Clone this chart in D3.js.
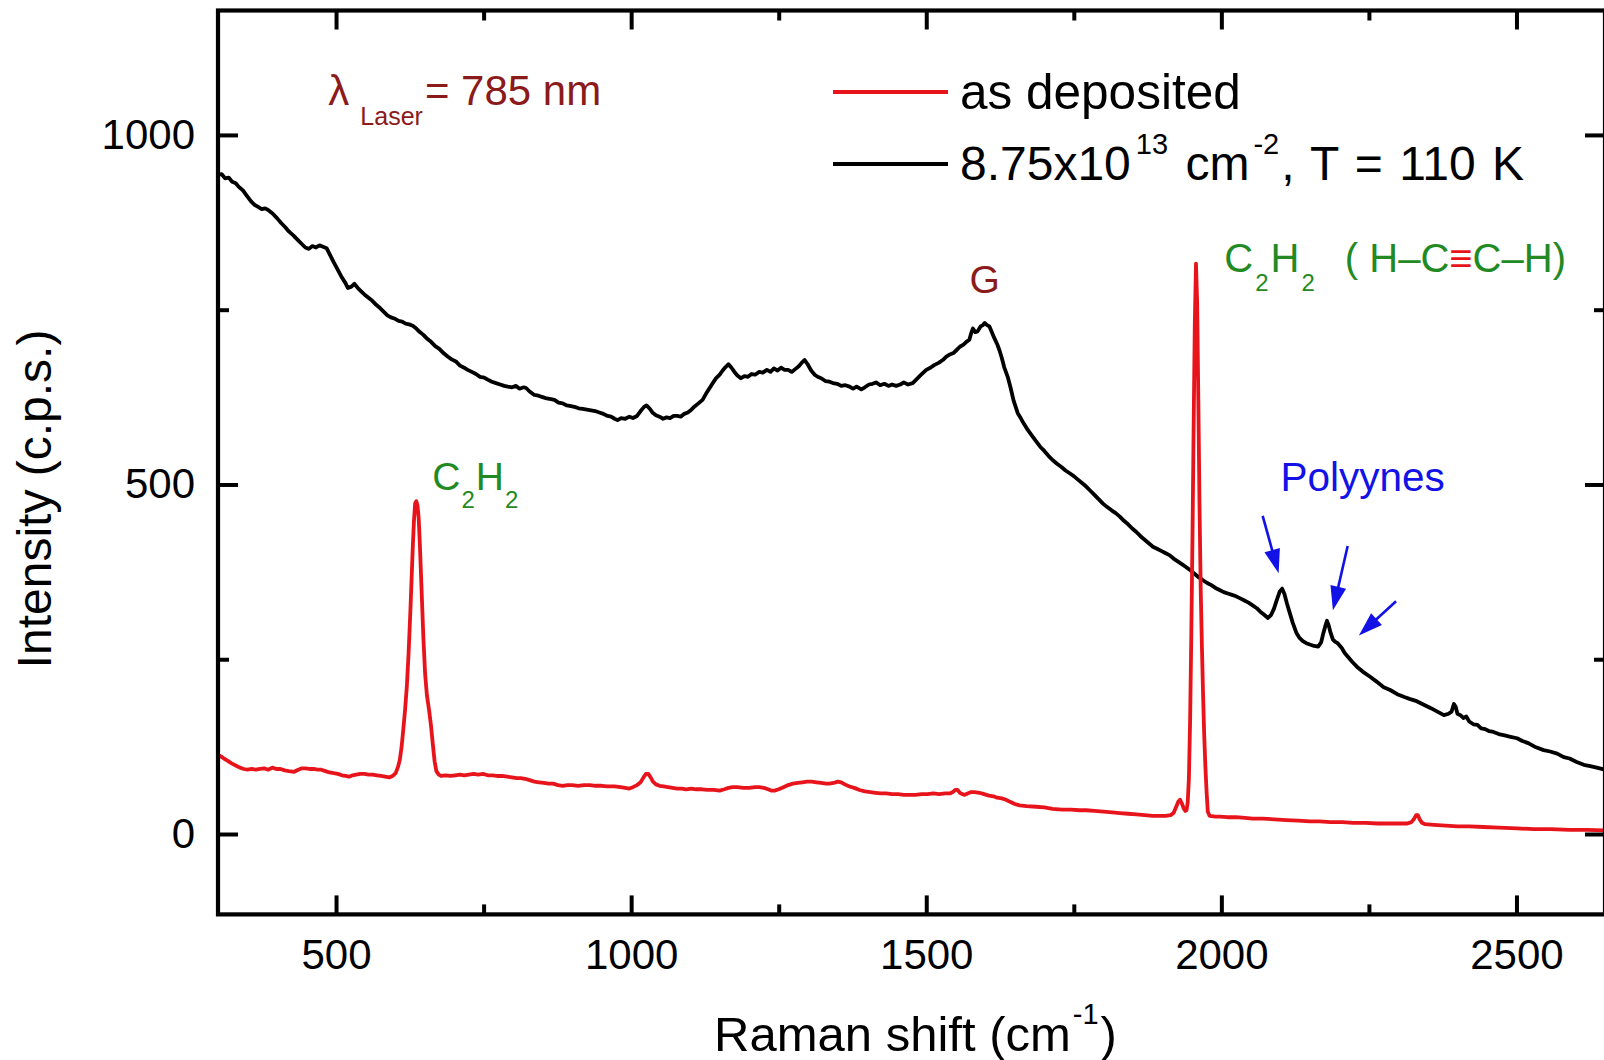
<!DOCTYPE html>
<html><head><meta charset="utf-8">
<script src="https://cdn.jsdelivr.net/npm/d3@7"></script>
<style>
html,body{margin:0;padding:0;background:#fff;}
svg{display:block;font-family:"Liberation Sans",Arial,Helvetica,sans-serif;}
</style>
</head><body>
<svg id="chart" width="1604" height="1060"></svg>
<script>
// ---------------- DATA ----------------
const seriesNames = ["as deposited", "8.75x10^13 cm^-2, T = 110 K"];
const seriesColors = ["#e8141c", "#000000"];

// Raman shift (cm-1), intensity (c.p.s.) — as deposited
const asDeposited = [[300,113],[305,111],[310,108],[316,105],[323,101],[330,98],[337,95],[344,93],[350,92],[357,93],[364,92],[371,93],[378,94],[385,92],[392,95],[399,93],[406,93],[413,91],[420,90],[429,89],[436,92],[442,94],[448,94],[455,93],[462,93],[469,92],[475,92],[482,90],[489,88],[496,87],[503,86],[510,84],[516,83],[522,82],[528,84],[534,85],[541,86],[548,86],[555,85],[562,85],[569,84],[576,83],[583,82],[590,81],[596,83],[601,87],[605,96],[608,106],[611,124],[614,150],[617,178],[620,212],[623,260],[626,320],[628,365],[630,410],[632,448],[634,473],[636,476],[638,470],[640,452],[642,415],[644,370],[646,325],[648,280],[651,228],[654,198],[658,175],[661,154],[664,128],[667,104],[670,90],[674,85],[678,83],[686,84],[694,83],[702,84],[710,85],[717,84],[725,85],[733,86],[741,85],[749,86],[757,84],[765,84],[773,83],[781,83],[790,82],[798,81],[806,80],[813,80],[820,79],[828,77],[836,75],[844,74],[852,73],[860,72],[868,72],[876,70],[884,69],[892,70],[900,70],[910,69],[920,70],[930,70],[940,69],[950,69],[960,68],[972,68],[982,67],[990,66],[997,65],[1003,67],[1010,70],[1016,74],[1021,81],[1025,86],[1029,86],[1033,81],[1037,75],[1042,71],[1048,69],[1055,68],[1062,67],[1070,66],[1078,65],[1086,65],[1093,64],[1102,65],[1110,64],[1120,64],[1130,63],[1140,63],[1150,62],[1158,64],[1165,66],[1172,67],[1180,67],[1190,66],[1200,66],[1210,67],[1217,67],[1225,66],[1232,64],[1238,62],[1243,62],[1250,64],[1258,67],[1266,70],[1274,72],[1282,73],[1290,74],[1298,75],[1306,75],[1314,74],[1322,73],[1330,72],[1336,72],[1343,73],[1350,75],[1356,74],[1362,71],[1370,68],[1378,66],[1387,63],[1396,61],[1405,60],[1414,59],[1423,58],[1432,58],[1442,57],[1452,57],[1462,56],[1472,56],[1482,56],[1492,57],[1502,57],[1512,58],[1522,57],[1532,58],[1540,58],[1545,60],[1549,63],[1553,63],[1557,59],[1561,57],[1565,56],[1570,58],[1576,60],[1582,60],[1590,59],[1598,57],[1606,55],[1614,54],[1620,52],[1628,51],[1635,49],[1642,46],[1650,43],[1658,41],[1670,40],[1686,39],[1700,38],[1714,36],[1730,35],[1745,35],[1760,34],[1771,34],[1785,33],[1800,32],[1815,31],[1828,30],[1842,29],[1856,28],[1870,27],[1884,26],[1896,26],[1906,26],[1914,27],[1919,30],[1923,38],[1927,46],[1930,49],[1933,44],[1936,37],[1939,33],[1941,34],[1943,45],[1945,80],[1947,160],[1949,280],[1951,420],[1953,580],[1955,730],[1957,816],[1959,760],[1961,620],[1963,470],[1965,350],[1967,270],[1969,200],[1971,140],[1973,95],[1975,60],[1977,32],[1980,26],[1990,25],[1997,25],[2010,24],[2025,24],[2040,23],[2053,22],[2070,22],[2090,21],[2110,20],[2130,19],[2150,18],[2166,18],[2185,17],[2205,17],[2223,16],[2245,16],[2265,15],[2280,15],[2300,15],[2315,15],[2322,17],[2326,21],[2330,27],[2333,27],[2336,21],[2340,16],[2345,14],[2360,13],[2380,12],[2400,11],[2420,11],[2444,10],[2470,9],[2501,8],[2530,7],[2558,7],[2590,6],[2620,6],[2650,5]];

// Raman shift (cm-1), intensity (c.p.s.) — 8.75x10^13 cm^-2, T = 110 K
const irradiated = [[300,943],[306,944],[312,938],[318,939],[324,933],[330,931],[336,925],[342,921],[348,914],[356,905],[362,900],[368,897],[374,894],[380,895],[386,892],[392,888],[400,881],[407,874],[414,868],[420,862],[428,856],[435,850],[442,844],[448,839],[454,837],[460,841],[466,839],[472,842],[478,840],[484,838],[490,828],[496,818],[503,807],[510,796],[516,788],[520,781],[526,783],[531,787],[537,781],[543,776],[549,771],[555,767],[561,763],[568,757],[575,752],[581,747],[587,742],[593,739],[600,737],[606,734],[612,733],[618,730],[624,729],[630,727],[636,723],[642,718],[648,714],[655,708],[661,704],[668,698],[675,694],[682,688],[689,683],[696,679],[703,676],[710,670],[717,667],[723,664],[730,661],[737,658],[744,654],[751,653],[757,650],[764,647],[771,645],[778,643],[785,641],[791,640],[798,639],[805,641],[811,637],[818,639],[822,638],[828,633],[836,628],[843,627],[850,625],[857,623],[864,622],[870,621],[877,617],[884,616],[891,613],[898,612],[904,611],[911,609],[918,608],[925,607],[932,606],[939,605],[946,603],[953,601],[960,598],[966,597],[972,594],[977,592],[983,595],[990,594],[997,597],[1003,595],[1010,598],[1016,605],[1022,611],[1026,613],[1031,609],[1036,603],[1042,599],[1048,597],[1054,594],[1060,596],[1066,595],[1072,598],[1078,598],[1084,597],[1090,601],[1096,603],[1102,607],[1108,612],[1114,616],[1121,621],[1127,630],[1133,638],[1139,646],[1144,652],[1150,657],[1155,663],[1160,668],[1165,672],[1170,667],[1175,661],[1180,656],[1186,652],[1192,655],[1198,654],[1204,658],[1210,657],[1217,661],[1223,660],[1230,664],[1236,661],[1242,666],[1248,663],[1254,667],[1260,664],[1266,664],[1272,661],[1278,665],[1284,669],[1290,675],[1294,678],[1299,672],[1305,663],[1311,657],[1316,654],[1322,652],[1329,648],[1336,647],[1342,645],[1349,644],[1356,641],[1363,642],[1370,640],[1376,637],[1382,640],[1390,636],[1396,639],[1403,643],[1409,644],[1415,646],[1422,642],[1429,644],[1436,641],[1442,643],[1449,641],[1456,643],[1462,646],[1469,643],[1477,645],[1483,650],[1490,656],[1495,660],[1500,664],[1507,667],[1514,671],[1521,674],[1528,678],[1534,683],[1540,686],[1546,688],[1551,692],[1557,697],[1563,700],[1568,704],[1573,707],[1576,716],[1579,723],[1583,718],[1587,719],[1592,726],[1596,728],[1599,731],[1603,728],[1607,726],[1611,718],[1615,710],[1620,701],[1624,692],[1628,681],[1632,668],[1638,654],[1643,638],[1648,620],[1655,602],[1660,595],[1666,586],[1672,578],[1679,570],[1686,562],[1693,554],[1700,548],[1707,541],[1714,535],[1721,530],[1729,525],[1736,520],[1743,516],[1750,512],[1757,507],[1764,502],[1771,497],[1778,491],[1785,485],[1792,479],[1799,473],[1806,468],[1814,463],[1821,459],[1828,454],[1835,448],[1842,443],[1849,437],[1856,432],[1863,426],[1870,421],[1877,416],[1884,411],[1891,408],[1898,405],[1905,402],[1912,399],[1919,394],[1926,390],[1933,386],[1940,382],[1948,377],[1955,372],[1962,367],[1969,363],[1976,359],[1983,356],[1990,352],[1997,349],[2004,346],[2011,344],[2018,342],[2025,340],[2032,337],[2039,334],[2046,331],[2053,327],[2060,323],[2066,318],[2072,314],[2079,309],[2084,313],[2089,322],[2094,335],[2099,347],[2103,351],[2107,343],[2111,330],[2116,316],[2121,302],[2127,288],[2132,281],[2138,276],[2144,273],[2150,271],[2157,269],[2164,268],[2169,274],[2173,288],[2177,300],[2179,305],[2182,298],[2185,288],[2189,278],[2193,275],[2197,273],[2200,270],[2204,266],[2209,259],[2214,254],[2222,246],[2230,239],[2240,232],[2252,225],[2263,218],[2275,210],[2286,206],[2298,200],[2310,196],[2320,193],[2331,190],[2343,185],[2355,180],[2366,175],[2377,170],[2385,172],[2390,175],[2394,186],[2397,182],[2400,172],[2405,170],[2410,166],[2415,168],[2420,161],[2427,157],[2434,156],[2440,151],[2447,150],[2454,147],[2461,146],[2470,143],[2480,141],[2490,139],[2501,137],[2510,133],[2520,130],[2533,124],[2546,120],[2557,118],[2569,115],[2580,110],[2590,108],[2602,103],[2614,99],[2625,97],[2636,95],[2650,92]];

const xTicksMajor = [500, 1000, 1500, 2000, 2500];
const xTicksMinor = [750, 1250, 1750, 2250];
const yTicksMajor = [0, 500, 1000];
const yTicksMinor = [250, 750];
const xDomain = [300, 2650];
const yDomain = [-115, 1178];

// annotation anchors in data units (cm-1, c.p.s.)
const polyyneArrows = [
  {from: [2070, 455], to: [2097, 373]},
  {from: [2214, 412], to: [2189, 320]},
  {from: [2296, 333], to: [2233, 284]}
];

// ---------------- CHART ----------------
const svg = d3.select("#chart");
const W = 1604, H = 1060;
const plot = {left: 218, right: 1605, top: 10.5, bottom: 914.4};

const x = d3.scaleLinear().domain(xDomain).range([plot.left, plot.right]);
const y = d3.scaleLinear().domain(yDomain).range([plot.bottom, plot.top]);

svg.append("rect").attr("width", W).attr("height", H).attr("fill", "#fff");

svg.append("defs").append("clipPath").attr("id", "clip")
  .append("rect").attr("x", plot.left).attr("y", plot.top)
  .attr("width", plot.right - plot.left).attr("height", plot.bottom - plot.top);

const line = d3.line().x(d => x(d[0])).y(d => y(d[1]));
const curves = svg.append("g").attr("clip-path", "url(#clip)");
curves.append("path").datum(irradiated)
  .attr("d", line).attr("fill", "none").attr("stroke", seriesColors[1])
  .attr("stroke-width", 3.8).attr("stroke-linejoin", "round");
curves.append("path").datum(asDeposited)
  .attr("d", line).attr("fill", "none").attr("stroke", seriesColors[0])
  .attr("stroke-width", 3.8).attr("stroke-linejoin", "round");

// axes
const tickFont = 42;
function styleAxis(g) {
  g.select(".domain").remove();
  g.selectAll(".tick line").attr("stroke", "#000").attr("stroke-width", 4);
  g.selectAll(".tick text").attr("fill", "#000").attr("font-size", tickFont)
    .attr("font-family", '"Liberation Sans",Arial,sans-serif');
}
const MAJ = 19, MIN = 10;
// bottom
svg.append("g").attr("transform", `translate(0,${plot.bottom})`)
  .call(d3.axisBottom(x).tickValues(xTicksMajor).tickSizeInner(-MAJ).tickSizeOuter(0).tickPadding(25).tickFormat(d3.format("d")))
  .call(styleAxis);
svg.append("g").attr("transform", `translate(0,${plot.bottom})`)
  .call(d3.axisBottom(x).tickValues(xTicksMinor).tickSizeInner(-MIN).tickSizeOuter(0).tickFormat(""))
  .call(styleAxis);
// top
svg.append("g").attr("transform", `translate(0,${plot.top})`)
  .call(d3.axisTop(x).tickValues(xTicksMajor).tickSizeInner(-MAJ).tickSizeOuter(0).tickFormat(""))
  .call(styleAxis);
svg.append("g").attr("transform", `translate(0,${plot.top})`)
  .call(d3.axisTop(x).tickValues(xTicksMinor).tickSizeInner(-MIN).tickSizeOuter(0).tickFormat(""))
  .call(styleAxis);
// left
svg.append("g").attr("transform", `translate(${plot.left},0)`)
  .call(d3.axisLeft(y).tickValues(yTicksMajor).tickSizeInner(-MAJ - 1).tickSizeOuter(0).tickPadding(23).tickFormat(d3.format("d")))
  .call(styleAxis);
svg.append("g").attr("transform", `translate(${plot.left},0)`)
  .call(d3.axisLeft(y).tickValues(yTicksMinor).tickSizeInner(-MIN - 1).tickSizeOuter(0).tickFormat(""))
  .call(styleAxis);
// right
svg.append("g").attr("transform", `translate(${plot.right},0)`)
  .call(d3.axisRight(y).tickValues(yTicksMajor).tickSizeInner(-MAJ - 1).tickSizeOuter(0).tickFormat(""))
  .call(styleAxis);
svg.append("g").attr("transform", `translate(${plot.right},0)`)
  .call(d3.axisRight(y).tickValues(yTicksMinor).tickSizeInner(-MIN - 1).tickSizeOuter(0).tickFormat(""))
  .call(styleAxis);

// frame
svg.append("rect").attr("x", plot.left).attr("y", plot.top)
  .attr("width", plot.right - plot.left).attr("height", plot.bottom - plot.top)
  .attr("fill", "none").attr("stroke", "#000").attr("stroke-width", 4.2);

// axis titles
const titleFont = 49;
const xt = svg.append("text").attr("x", (plot.left + plot.right) / 2 + 4).attr("y", 1051)
  .attr("text-anchor", "middle").attr("font-size", titleFont).attr("fill", "#000");
xt.append("tspan").text("Raman shift (cm");
xt.append("tspan").attr("font-size", 29).attr("dx", 2).attr("dy", -27).text("-1");
xt.append("tspan").attr("dx", 2).attr("dy", 27).text(")");

svg.append("text").attr("transform", `translate(51,499) rotate(-90)`)
  .attr("text-anchor", "middle").attr("font-size", 48).attr("fill", "#000")
  .text("Intensity (c.p.s.)");

// legend
const legend = {x1: 833, x2: 948, tx: 960, rows: [92, 164]};
seriesNames.forEach((name, i) => {
  svg.append("line").attr("x1", legend.x1).attr("x2", legend.x2)
    .attr("y1", legend.rows[i]).attr("y2", legend.rows[i])
    .attr("stroke", seriesColors[i]).attr("stroke-width", 3.8);
});
svg.append("text").attr("x", legend.tx).attr("y", legend.rows[0] + 17)
  .attr("font-size", 49.5).attr("fill", "#000").text(seriesNames[0]);
const l2 = svg.append("text").attr("x", legend.tx).attr("y", legend.rows[1] + 16)
  .attr("font-size", 48).attr("fill", "#000");
l2.append("tspan").text("8.75x10");
l2.append("tspan").attr("font-size", 29).attr("dx", 5).attr("dy", -26).text("13");
l2.append("tspan").attr("dx", 4).attr("dy", 26).text(" cm");
l2.append("tspan").attr("font-size", 29).attr("dx", 4).attr("dy", -26).text("-2");
l2.append("tspan").attr("dy", 26).attr("dx", 2).attr("word-spacing", 3).text(", T = 110 K");

// annotations
const darkRed = "#8b1a1a", green = "#238a23", blue = "#1212e6";

const lam = svg.append("text").attr("x", x(487)).attr("y", y(1043))
  .attr("font-size", 42).attr("fill", darkRed);
lam.append("tspan").text("λ");
lam.append("tspan").attr("font-size", 25).attr("dx", 11).attr("dy", 20).text("Laser");
lam.append("tspan").attr("dx", 2).attr("dy", -20).text("= 785 nm");

svg.append("text").attr("x", x(1599)).attr("y", y(774)).attr("text-anchor", "middle")
  .attr("font-size", 39).attr("fill", darkRed).text("G");

const c1 = svg.append("text").attr("x", x(663)).attr("y", y(492))
  .attr("font-size", 39).attr("fill", green);
c1.append("tspan").text("C");
c1.append("tspan").attr("font-size", 24).attr("dx", 1).attr("dy", 18).text("2");
c1.append("tspan").attr("dx", 1).attr("dy", -18).text("H");
c1.append("tspan").attr("font-size", 24).attr("dx", 1).attr("dy", 18).text("2");

const c2 = svg.append("text").attr("x", x(2005)).attr("y", y(804))
  .attr("font-size", 40).attr("fill", green);
c2.append("tspan").text("C");
c2.append("tspan").attr("font-size", 24).attr("dx", 2).attr("dy", 19).text("2");
c2.append("tspan").attr("dx", 2).attr("dy", -19).text("H");
c2.append("tspan").attr("font-size", 24).attr("dx", 2).attr("dy", 19).text("2");
c2.append("tspan").attr("dy", -19).attr("dx", 30).text("( H–C");
c2.append("tspan").attr("fill", "#e8141c").text("≡");
c2.append("tspan").text("C–H)");

svg.append("text").attr("x", x(2100)).attr("y", y(490))
  .attr("font-size", 40.5).attr("fill", blue).text("Polyynes");

// arrows
const headLen = 24, headHalf = 8;
polyyneArrows.forEach(a => {
  const x0 = x(a.from[0]), y0 = y(a.from[1]);
  const x1 = x(a.to[0]), y1 = y(a.to[1]);
  const dx = x1 - x0, dy = y1 - y0, len = Math.hypot(dx, dy);
  const ux = dx / len, uy = dy / len;
  const bx = x1 - ux * headLen, by = y1 - uy * headLen;
  svg.append("line").attr("x1", x0).attr("y1", y0).attr("x2", bx + ux * 2).attr("y2", by + uy * 2)
    .attr("stroke", blue).attr("stroke-width", 2.6);
  svg.append("path")
    .attr("d", `M${x1},${y1}L${bx - uy * headHalf},${by + ux * headHalf}L${bx + uy * headHalf},${by - ux * headHalf}Z`)
    .attr("fill", blue);
});
</script>
</body></html>
